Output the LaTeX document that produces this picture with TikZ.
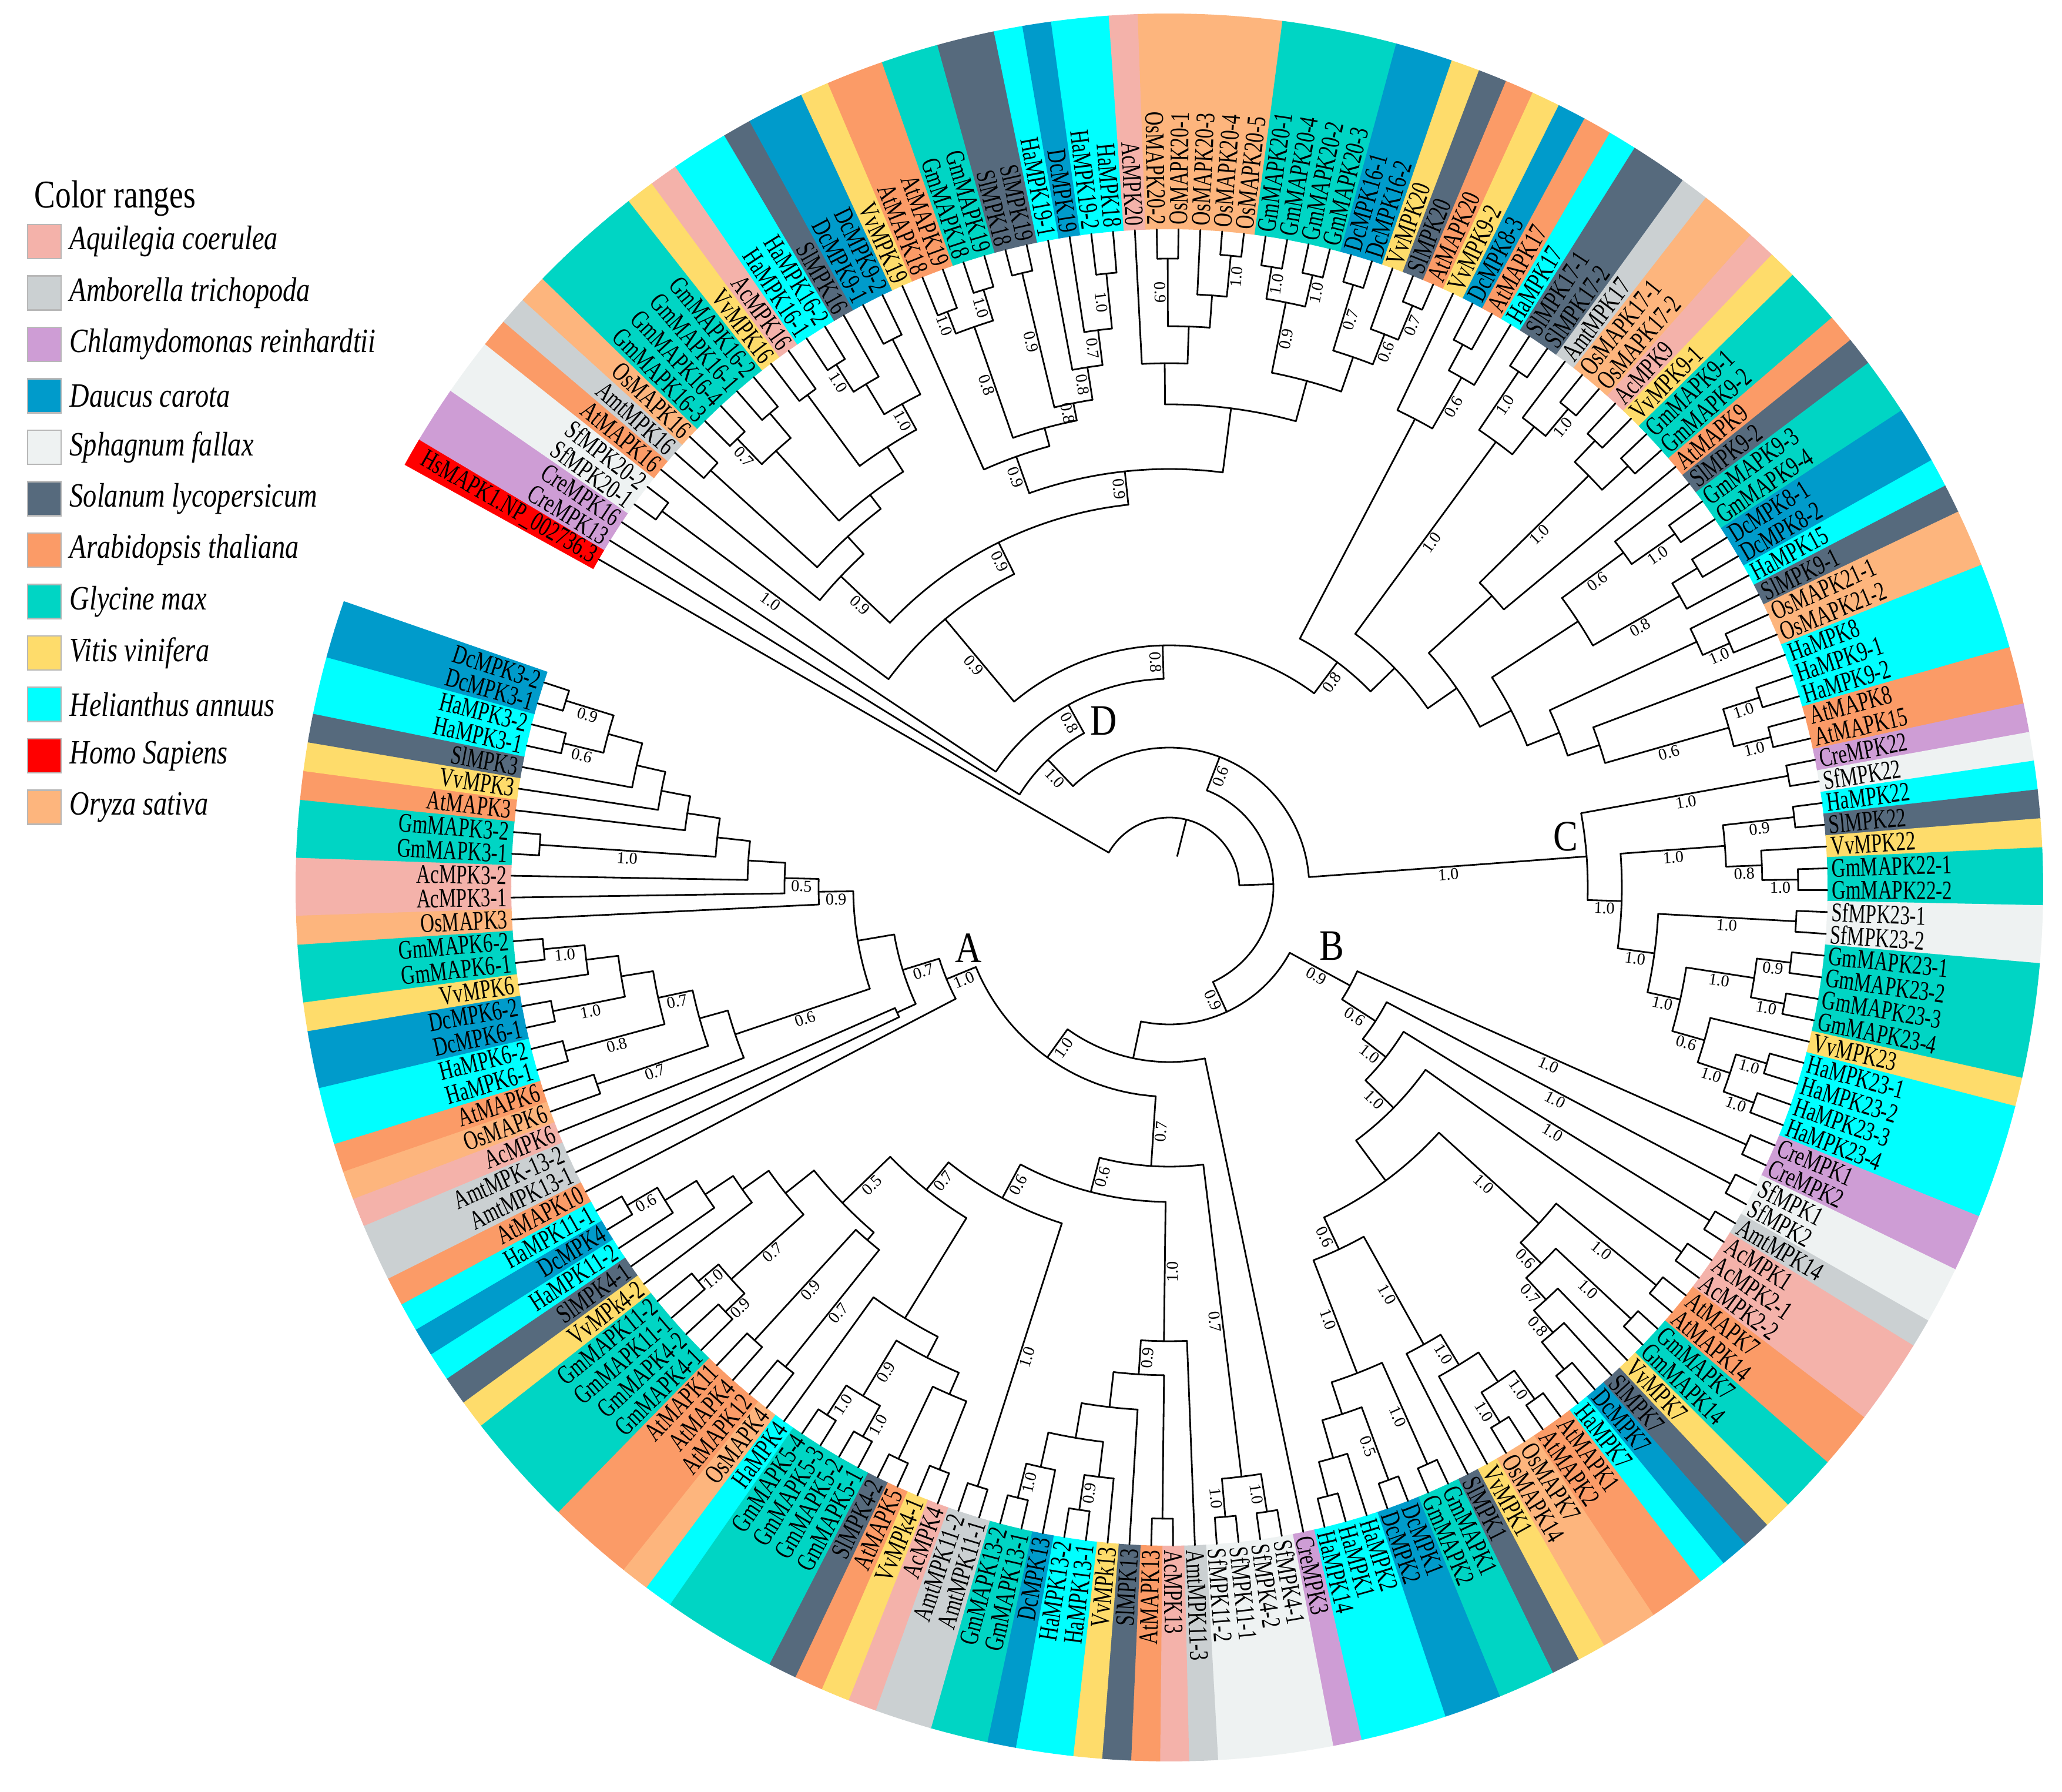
\documentclass[tikz,border=0pt]{standalone}
\usepackage{fontspec}
\setmainfont{Liberation Serif}
\newfontfamily\leaffont{Liberation Serif}[FakeStretch=0.72]
\newfontfamily\legfont{Liberation Serif}[FakeStretch=0.8]
\newfontfamily\abcfont{Liberation Serif}[FakeStretch=0.85]

\definecolor{cAc}{HTML}{F4B2AA}
\definecolor{cAm}{HTML}{CBD0D2}
\definecolor{cCr}{HTML}{CE9DD5}
\definecolor{cDc}{HTML}{009BCB}
\definecolor{cSf}{HTML}{EEF2F2}
\definecolor{cSl}{HTML}{566A7D}
\definecolor{cAt}{HTML}{FB9B67}
\definecolor{cGm}{HTML}{00D5C4}
\definecolor{cVv}{HTML}{FEDC6B}
\definecolor{cHa}{HTML}{00FFFF}
\definecolor{cHs}{HTML}{FF0000}
\definecolor{cOs}{HTML}{FDB57D}

\tikzset{
  branch/.style={line width=0.8pt, line cap=round, line join=round},
  boot/.style={font=\fontsize{8}{9}\selectfont, inner sep=0.8pt, anchor=north},
  leaf/.style={font=\leaffont\fontsize{13}{14}\selectfont, inner sep=0pt},
  cladename/.style={font=\abcfont\fontsize{21}{23}\selectfont, inner sep=0pt},
  legtext/.style={font=\legfont\itshape\fontsize{16.5}{18}\selectfont, inner sep=0pt, anchor=west},
}

% leaf i sits at \lstart - (i-1)*\lstep degrees, tips at radius 11.2
\def\lstart{150.1}
\def\lstep{1.903}
\makeatletter
\def\tipr{11.2}
\newcommand\setleaf[1]{%
  \pgfmathsetmacro\lf@a{\lstart-(#1-1)*\lstep}%
  \expandafter\xdef\csname ta@#1\endcsname{\lf@a}%
  \expandafter\xdef\csname tr@#1\endcsname{\tipr}%
}
\newcommand\stemto[2]{% child, radius of parent
  \edef\st@a{\csname ta@#1\endcsname}%
  \edef\st@r{\csname tr@#1\endcsname}%
  \draw[branch] (\st@a:#2) -- (\st@a:\st@r);
  \ifcsname tb@#1\endcsname
    \pgfmathsetmacro\st@m{(#2+\st@r)/2}%
    \pgfmathtruncatemacro\st@s{cos(\st@a)>=0}%
    \ifnum\st@s=1 \edef\st@rot{\st@a}\else\pgfmathsetmacro\st@rot{\st@a+180}\fi
    \node[boot, rotate=\st@rot] at (\st@a:\st@m) {\csname tb@#1\endcsname};
  \fi
}
\newcommand\clade[5]{% name, radius, child, child, support
  \edef\cl@a{\csname ta@#3\endcsname}%
  \edef\cl@b{\csname ta@#4\endcsname}%
  \draw[branch] (\cl@a:#2) arc[start angle=\cl@a, end angle=\cl@b, radius=#2];
  \stemto{#3}{#2}\stemto{#4}{#2}%
  \pgfmathsetmacro\cl@m{(\cl@a+\cl@b)/2}%
  \expandafter\xdef\csname ta@#1\endcsname{\cl@m}%
  \expandafter\xdef\csname tr@#1\endcsname{#2}%
  \def\cl@t{#5}\ifx\cl@t\empty\else\expandafter\xdef\csname tb@#1\endcsname{#5}\fi
}
\makeatother

\def\leaflist{HsMAPK1.NP\_002736.3/cHs,CreMPK13/cCr,CreMPK16/cCr,SfMPK20-1/cSf,SfMPK20-2/cSf,
AtMAPK16/cAt,AmtMPK16/cAm,OsMAPK16/cOs,GmMAPK16-3/cGm,GmMAPK16-4/cGm,GmMAPK16-1/cGm,GmMAPK16-2/cGm,
VvMPK16/cVv,AcMPK16/cAc,HaMPK16-1/cHa,HaMPK16-2/cHa,SlMPK16/cSl,DcMPK9-1/cDc,DcMPK9-2/cDc,
VvMPK19/cVv,AtMAPK18/cAt,AtMAPK19/cAt,GmMAPK18/cGm,GmMAPK19/cGm,SlMPK18/cSl,SlMPK19/cSl,
HaMPK19-1/cHa,DcMPK19/cDc,HaMPK19-2/cHa,HaMPK18/cHa,AcMPK20/cAc,OsMAPK20-2/cOs,OsMAPK20-1/cOs,
OsMAPK20-3/cOs,OsMAPK20-4/cOs,OsMAPK20-5/cOs,GmMAPK20-1/cGm,GmMAPK20-4/cGm,GmMAPK20-2/cGm,
GmMAPK20-3/cGm,DcMPK16-1/cDc,DcMPK16-2/cDc,VvMPK20/cVv,SlMPK20/cSl,AtMAPK20/cAt,VvMPK9-2/cVv,
DcMPK8-3/cDc,AtMAPK17/cAt,HaMPK17/cHa,SlMPK17-1/cSl,SlMPK17-2/cSl,AmtMPK17/cAm,OsMAPK17-1/cOs,
OsMAPK17-2/cOs,AcMPK9/cAc,VvMPK9-1/cVv,GmMAPK9-1/cGm,GmMAPK9-2/cGm,AtMAPK9/cAt,SlMPK9-2/cSl,
GmMAPK9-3/cGm,GmMAPK9-4/cGm,DcMPK8-1/cDc,DcMPK8-2/cDc,HaMPK15/cHa,SlMPK9-1/cSl,OsMAPK21-1/cOs,
OsMAPK21-2/cOs,HaMPK8/cHa,HaMPK9-1/cHa,HaMPK9-2/cHa,AtMAPK8/cAt,AtMAPK15/cAt,CreMPK22/cCr,
SfMPK22/cSf,HaMPK22/cHa,SlMPK22/cSl,VvMPK22/cVv,GmMAPK22-1/cGm,GmMAPK22-2/cGm,SfMPK23-1/cSf,
SfMPK23-2/cSf,GmMAPK23-1/cGm,GmMAPK23-2/cGm,GmMAPK23-3/cGm,GmMAPK23-4/cGm,VvMPK23/cVv,
HaMPK23-1/cHa,HaMPK23-2/cHa,HaMPK23-3/cHa,HaMPK23-4/cHa,CreMPK1/cCr,CreMPK2/cCr,SfMPK1/cSf,
SfMPK2/cSf,AmtMPK14/cAm,AcMPK1/cAc,AcMPK2-1/cAc,AcMPK2-2/cAc,AtMAPK7/cAt,AtMAPK14/cAt,
GmMAPK7/cGm,GmMAPK14/cGm,VvMPK7/cVv,SlMPK7/cSl,DcMPK7/cDc,HaMPK7/cHa,AtMAPK1/cAt,AtMAPK2/cAt,
OsMAPK7/cOs,OsMAPK14/cOs,VvMPK1/cVv,SlMPK1/cSl,GmMAPK1/cGm,GmMAPK2/cGm,DcMPK1/cDc,DcMPK2/cDc,
HaMPK2/cHa,HaMPK1/cHa,HaMPK14/cHa,CreMPK3/cCr,SfMPK4-1/cSf,SfMPK4-2/cSf,SfMPK11-1/cSf,
SfMPK11-2/cSf,AmtMPK11-3/cAm,AcMPK13/cAc,AtMAPK13/cAt,SlMPK13/cSl,VvMPk13/cVv,HaMPK13-1/cHa,
HaMPK13-2/cHa,DcMPK13/cDc,GmMAPK13-1/cGm,GmMAPK13-2/cGm,AmtMPK11-1/cAm,AmtMPK11-2/cAm,
AcMPK4/cAc,VvMPk4-1/cVv,AtMAPK5/cAt,SlMPK4-2/cSl,GmMAPK5-1/cGm,GmMAPK5-2/cGm,GmMAPK5-3/cGm,
GmMAPK5-4/cGm,HaMPK4/cHa,OsMAPK4/cOs,AtMAPK12/cAt,AtMAPK4/cAt,AtMAPK11/cAt,GmMAPK4-1/cGm,
GmMAPK4-2/cGm,GmMAPK11-1/cGm,GmMAPK11-2/cGm,VvMPk4-2/cVv,SlMPK4-1/cSl,HaMPK11-2/cHa,DcMPK4/cDc,
HaMPK11-1/cHa,AtMAPK10/cAt,AmtMPK13-1/cAm,AmtMPK-13-2/cAm,AcMPK6/cAc,OsMAPK6/cOs,AtMAPK6/cAt,
HaMPK6-1/cHa,HaMPK6-2/cHa,DcMPK6-1/cDc,DcMPK6-2/cDc,VvMPK6/cVv,GmMAPK6-1/cGm,GmMAPK6-2/cGm,
OsMAPK3/cOs,AcMPK3-1/cAc,AcMPK3-2/cAc,GmMAPK3-1/cGm,GmMAPK3-2/cGm,AtMAPK3/cAt,VvMPK3/cVv,
SlMPK3/cSl,HaMPK3-1/cHa,HaMPK3-2/cHa,DcMPK3-1/cDc,DcMPK3-2/cDc}

\begin{document}
\begin{tikzpicture}
  \useasboundingbox (-19.90,-15.39) rectangle (15.19,15.10);
  \fill[white] (-19.90,-15.39) rectangle (15.19,15.10);

  % Colour ranges behind the names
  \foreach \nm/\cl [count=\i] in \leaflist {
    \pgfmathsetmacro\ang{\lstart-(\i-1)*\lstep}
    \pgfmathsetmacro\angA{\ang+0.975}
    \pgfmathsetmacro\angB{\ang-0.975}
    \fill[\cl] (\angA:11.2) arc[start angle=\angA, end angle=\angB, radius=11.2]
      -- (\angB:14.87) arc[start angle=\angB, end angle=\angA, radius=14.87] -- cycle;
  }

  % Tree
  \foreach \i in {1,...,184}{\setleaf{\i}}

  % group D
  \clade{s45}{10.75}{4}{5}{1.0}
  \clade{a78}{10.55}{7}{8}{}
  \clade{b910}{10.6}{9}{10}{0.7}
  \clade{b1112}{10.55}{11}{12}{}
  \clade{bc}{10.0}{b910}{b1112}{}
  \clade{d1314}{10.4}{13}{14}{}
  \clade{e1516}{10.55}{15}{16}{1.0}
  \clade{ef}{10.0}{e1516}{17}{}
  \clade{g1819}{10.45}{18}{19}{}
  \clade{efg}{9.4}{ef}{g1819}{1.0}
  \clade{defg}{8.9}{d1314}{efg}{}
  \clade{bcdefg}{8.4}{bc}{defg}{}
  \clade{abcdefg}{8.1}{a78}{bcdefg}{}
  \clade{G16}{7.7}{6}{abcdefg}{0.9}
  \clade{p2122}{10.5}{21}{22}{1.0}
  \clade{p2324}{10.65}{23}{24}{1.0}
  \clade{atgm}{10.1}{p2122}{p2324}{0.8}
  \clade{p2526}{10.75}{25}{26}{0.9}
  \clade{p2930}{10.5}{29}{30}{1.0}
  \clade{g19e}{9.56}{28}{p2930}{0.7}
  \clade{g19d}{8.96}{27}{g19e}{0.8}
  \clade{g19c}{8.4}{p2526}{g19d}{0.8}
  \clade{g19b}{8.1}{atgm}{g19c}{}
  \clade{G19}{7.78}{20}{g19b}{0.9}
  \clade{p3233}{10.7}{32}{33}{0.9}
  \clade{p3536}{10.8}{35}{36}{1.0}
  \clade{o34}{10.1}{34}{p3536}{}
  \clade{Os20}{9.55}{p3233}{o34}{}
  \clade{G20a}{8.92}{31}{Os20}{}
  \clade{p3738}{10.7}{37}{38}{1.0}
  \clade{p3940}{10.7}{39}{40}{1.0}
  \clade{Gm20}{10.15}{p3738}{p3940}{0.9}
  \clade{p4142}{10.72}{41}{42}{0.7}
  \clade{p4445}{10.73}{44}{45}{0.7}
  \clade{v43}{10.1}{43}{p4445}{0.6}
  \clade{Dc16}{9.55}{p4142}{v43}{}
  \clade{G20b}{8.93}{Gm20}{Dc16}{}
  \clade{G20}{8.22}{G20a}{G20b}{}
  \clade{G1920}{7.12}{G19}{G20}{0.9}
  \clade{D3a2}{6.55}{G16}{G1920}{0.9}
  \clade{D3a}{5.95}{s45}{D3a2}{0.9}
  \clade{ua1}{10.5}{47}{48}{}
  \clade{ua2}{10.0}{ua1}{49}{0.6}
  \clade{ua3}{9.0}{46}{ua2}{}
  \clade{ub1}{10.6}{50}{51}{1.0}
  \clade{ub2}{10.6}{53}{54}{1.0}
  \clade{ub3}{10.0}{52}{ub2}{}
  \clade{ub4}{9.4}{ub1}{ub3}{1.0}
  \clade{uc1}{10.5}{55}{56}{}
  \clade{uc2}{10.6}{57}{58}{}
  \clade{uc3}{10.0}{uc1}{uc2}{1.0}
  \clade{uc4}{7.4}{uc3}{59}{}
  \clade{ud1}{10.5}{61}{62}{1.0}
  \clade{ud2}{9.6}{60}{ud1}{0.6}
  \clade{ud3}{10.5}{63}{64}{}
  \clade{ud4}{10.0}{ud3}{65}{0.8}
  \clade{ud5}{8.3}{ud2}{ud4}{}
  \clade{ue1}{10.4}{67}{68}{1.0}
  \clade{ue2}{9.9}{66}{ue1}{}
  \clade{uf1}{10.55}{70}{71}{1.0}
  \clade{uf2}{10.55}{72}{73}{1.0}
  \clade{uf3}{9.9}{uf1}{uf2}{0.6}
  \clade{L5}{7.71}{69}{uf3}{}
  \clade{L4}{7.14}{ue2}{L5}{}
  \clade{L3}{6.55}{ud5}{L4}{}
  \clade{L2}{5.95}{uc4}{L3}{}
  \clade{L1}{5.35}{ub4}{L2}{}
  \clade{L0}{4.78}{ua3}{L1}{0.8}
  \clade{D3}{4.12}{D3a}{L0}{0.8}
  \clade{D2}{3.55}{3}{D3}{0.8}
  \clade{D}{3.0}{2}{D2}{1.0}

  % group C
  \clade{cp7475}{10.7}{74}{75}{1.0}
  \clade{cp7677}{10.7}{76}{77}{0.9}
  \clade{cp7980}{10.7}{79}{80}{1.0}
  \clade{c3b}{10.09}{78}{cp7980}{0.8}
  \clade{c3}{9.48}{cp7677}{c3b}{1.0}
  \clade{cp8182}{10.68}{81}{82}{1.0}
  \clade{cp8384}{10.65}{83}{84}{0.9}
  \clade{cp8586}{10.65}{85}{86}{1.0}
  \clade{gm23}{10.07}{cp8384}{cp8586}{1.0}
  \clade{cp8889}{10.6}{88}{89}{1.0}
  \clade{cp9091}{10.6}{90}{91}{1.0}
  \clade{ha23}{10.05}{cp8889}{cp9091}{1.0}
  \clade{cr}{9.47}{87}{ha23}{0.6}
  \clade{c5}{8.9}{gm23}{cr}{1.0}
  \clade{c4}{8.33}{cp8182}{c5}{1.0}
  \clade{c2}{7.7}{c3}{c4}{1.0}
  \clade{C}{7.12}{cp7475}{c2}{1.0}
  \clade{Yn}{2.38}{D}{C}{0.6}

  % group B
  \clade{bp9293}{10.75}{92}{93}{1.0}
  \clade{bp9495}{10.8}{94}{95}{1.0}
  \clade{bp9697}{10.8}{96}{97}{1.0}
  \clade{bp9899}{10.7}{98}{99}{}
  \clade{bp100}{10.7}{100}{101}{1.0}
  \clade{bp102}{10.75}{102}{103}{1.0}
  \clade{bp106}{10.6}{106}{107}{}
  \clade{bc5}{10.0}{105}{bp106}{0.8}
  \clade{bc6}{9.5}{104}{bc5}{0.7}
  \clade{bc7}{9.0}{bp102}{bc6}{0.6}
  \clade{bc8}{8.5}{bp100}{bc7}{1.0}
  \clade{bd1}{10.7}{108}{109}{1.0}
  \clade{bd2}{10.7}{110}{111}{1.0}
  \clade{bd3}{10.1}{bd1}{bd2}{}
  \clade{bd4}{9.5}{bd3}{112}{1.0}
  \clade{bd5}{8.9}{bd4}{113}{1.0}
  \clade{be1}{10.75}{114}{115}{1.0}
  \clade{be2}{10.75}{116}{117}{0.5}
  \clade{be3}{10.7}{119}{120}{}
  \clade{be4}{10.1}{118}{be3}{}
  \clade{be5}{9.43}{be2}{be4}{}
  \clade{be6}{8.86}{be1}{be5}{1.0}
  \clade{be7}{6.8}{bd5}{be6}{0.6}
  \clade{by2}{6.2}{bc8}{be7}{}
  \clade{b4}{5.35}{bp9899}{by2}{1.0}
  \clade{b3}{4.68}{bp9697}{b4}{1.0}
  \clade{b2}{4.18}{bp9495}{b3}{0.6}
  \clade{B}{3.5}{bp9293}{b2}{0.9}

  % group A
  \clade{sp1}{10.75}{122}{123}{1.0}
  \clade{sp2}{10.75}{124}{125}{1.0}
  \clade{Sf}{10.1}{sp1}{sp2}{0.7}
  \clade{m1}{10.74}{127}{128}{}
  \clade{m2}{10.7}{131}{132}{0.9}
  \clade{m3}{10.1}{130}{m2}{}
  \clade{m4}{10.7}{134}{135}{1.0}
  \clade{m5}{10.1}{133}{m4}{}
  \clade{m6}{9.5}{m5}{m3}{}
  \clade{m7}{8.9}{m6}{129}{}
  \clade{G13}{8.3}{m7}{m1}{0.9}
  \clade{N13}{7.72}{G13}{126}{1.0}
  \clade{ap136}{10.7}{136}{137}{1.0}
  \clade{q1}{10.65}{138}{139}{}
  \clade{q2}{10.76}{140}{141}{}
  \clade{q3}{9.4}{q1}{q2}{}
  \clade{q4}{10.7}{142}{143}{1.0}
  \clade{q5}{10.7}{144}{145}{1.0}
  \clade{q6}{10.1}{q4}{q5}{0.9}
  \clade{q7}{9.0}{q3}{q6}{}
  \clade{A6}{8.6}{q7}{146}{}
  \clade{g1}{10.45}{149}{150}{0.9}
  \clade{g2}{10.45}{151}{152}{0.9}
  \clade{g3}{10.45}{153}{154}{1.0}
  \clade{g4}{10.0}{g2}{g3}{0.7}
  \clade{g6}{10.45}{147}{148}{0.7}
  \clade{gY}{7.9}{g6}{g1}{}
  \clade{h1}{10.7}{158}{159}{0.6}
  \clade{h2}{10.1}{157}{h1}{}
  \clade{h3}{9.47}{156}{h2}{}
  \clade{h4}{8.9}{155}{h3}{}
  \clade{n835}{8.35}{g4}{h4}{}
  \clade{n773}{7.73}{gY}{n835}{0.5}
  \clade{A5}{6.6}{A6}{n773}{0.7}
  \clade{A4}{6.0}{ap136}{A5}{0.6}
  \clade{A3}{5.35}{A4}{N13}{0.6}
  \clade{A2}{4.75}{A3}{Sf}{0.7}
  \clade{k1}{10.7}{171}{172}{1.0}
  \clade{k2}{10.0}{170}{k1}{}
  \clade{k3}{10.7}{168}{169}{1.0}
  \clade{k4}{9.45}{k2}{k3}{}
  \clade{k5}{10.65}{166}{167}{0.8}
  \clade{k6}{8.9}{k4}{k5}{0.7}
  \clade{k7}{10.3}{164}{165}{0.7}
  \clade{k8}{8.3}{k6}{k7}{}
  \clade{k9}{7.8}{k8}{163}{0.6}
  \clade{j1}{10.6}{181}{182}{0.6}
  \clade{j2}{10.75}{183}{184}{0.9}
  \clade{j3}{9.9}{j1}{j2}{}
  \clade{j4}{9.3}{180}{j3}{}
  \clade{j5}{8.8}{179}{j4}{}
  \clade{j6}{8.3}{178}{j5}{}
  \clade{j7}{10.74}{176}{177}{1.0}
  \clade{j8}{7.74}{j7}{j6}{}
  \clade{j9}{7.18}{175}{j8}{}
  \clade{j10}{6.55}{174}{j9}{0.5}
  \clade{A1f}{5.97}{173}{j10}{0.9}
  \clade{A1d}{5.38}{k9}{A1f}{}
  \clade{am13}{5.1}{161}{162}{}
  \clade{A1b}{4.75}{am13}{A1d}{0.7}
  \clade{A1}{4.1}{160}{A1b}{1.0}
  \clade{A}{3.56}{A1}{A2}{1.0}
  \clade{W}{2.97}{A}{121}{}
  \clade{Z}{2.33}{B}{W}{0.9}
  \clade{X}{1.77}{Yn}{Z}{}
  \clade{root}{1.19}{1}{X}{}
  \edef\rootang{\csname ta@root\endcsname}
  \draw[branch] (\rootang:0.55) -- (\rootang:1.19);

  % group letters
  \node[cladename] (labA) at (-3.42,-1.03) {A};
  \node[cladename] (labB) at (2.76,-0.99) {B};
  \node[cladename] (labC) at (6.74,0.87) {C};
  \node[cladename] (labD) at (-1.12,2.84) {D};

  % Leaf names
  \foreach \nm/\cl [count=\i] in \leaflist {
    \pgfmathsetmacro\ang{\lstart-(\i-1)*\lstep}
    \pgfmathtruncatemacro\rside{cos(\ang)>=0}
    \ifnum\rside=1
      \node[leaf, rotate=\ang, anchor=west] (lf\i) at (\ang:11.27) {\nm};
    \else
      \node[leaf, rotate=\ang+180, anchor=east] (lf\i) at (\ang:11.27) {\nm};
    \fi
  }

  % Legend
  \node[font=\legfont\fontsize{19}{21}\selectfont, inner sep=0pt, anchor=west] (legtitle) at (-19.32,11.72) {Color ranges};
  \foreach \sp/\cl [count=\k from 0] in {Aquilegia coerulea/cAc,Amborella trichopoda/cAm,
    Chlamydomonas reinhardtii/cCr,Daucus carota/cDc,Sphagnum fallax/cSf,Solanum lycopersicum/cSl,
    Arabidopsis thaliana/cAt,Glycine max/cGm,Vitis vinifera/cVv,Helianthus annuus/cHa,
    Homo Sapiens/cHs,Oryza sativa/cOs}{
    \pgfmathsetmacro\yy{10.99-0.875*\k}
    \filldraw[fill=\cl, draw=black!28, line width=0.7pt] (-19.43,\yy-0.29) rectangle (-18.86,\yy+0.29);
    \node[legtext] (leg\k) at (-18.72,\yy) {\sp};
  }
\end{tikzpicture}
\end{document}
